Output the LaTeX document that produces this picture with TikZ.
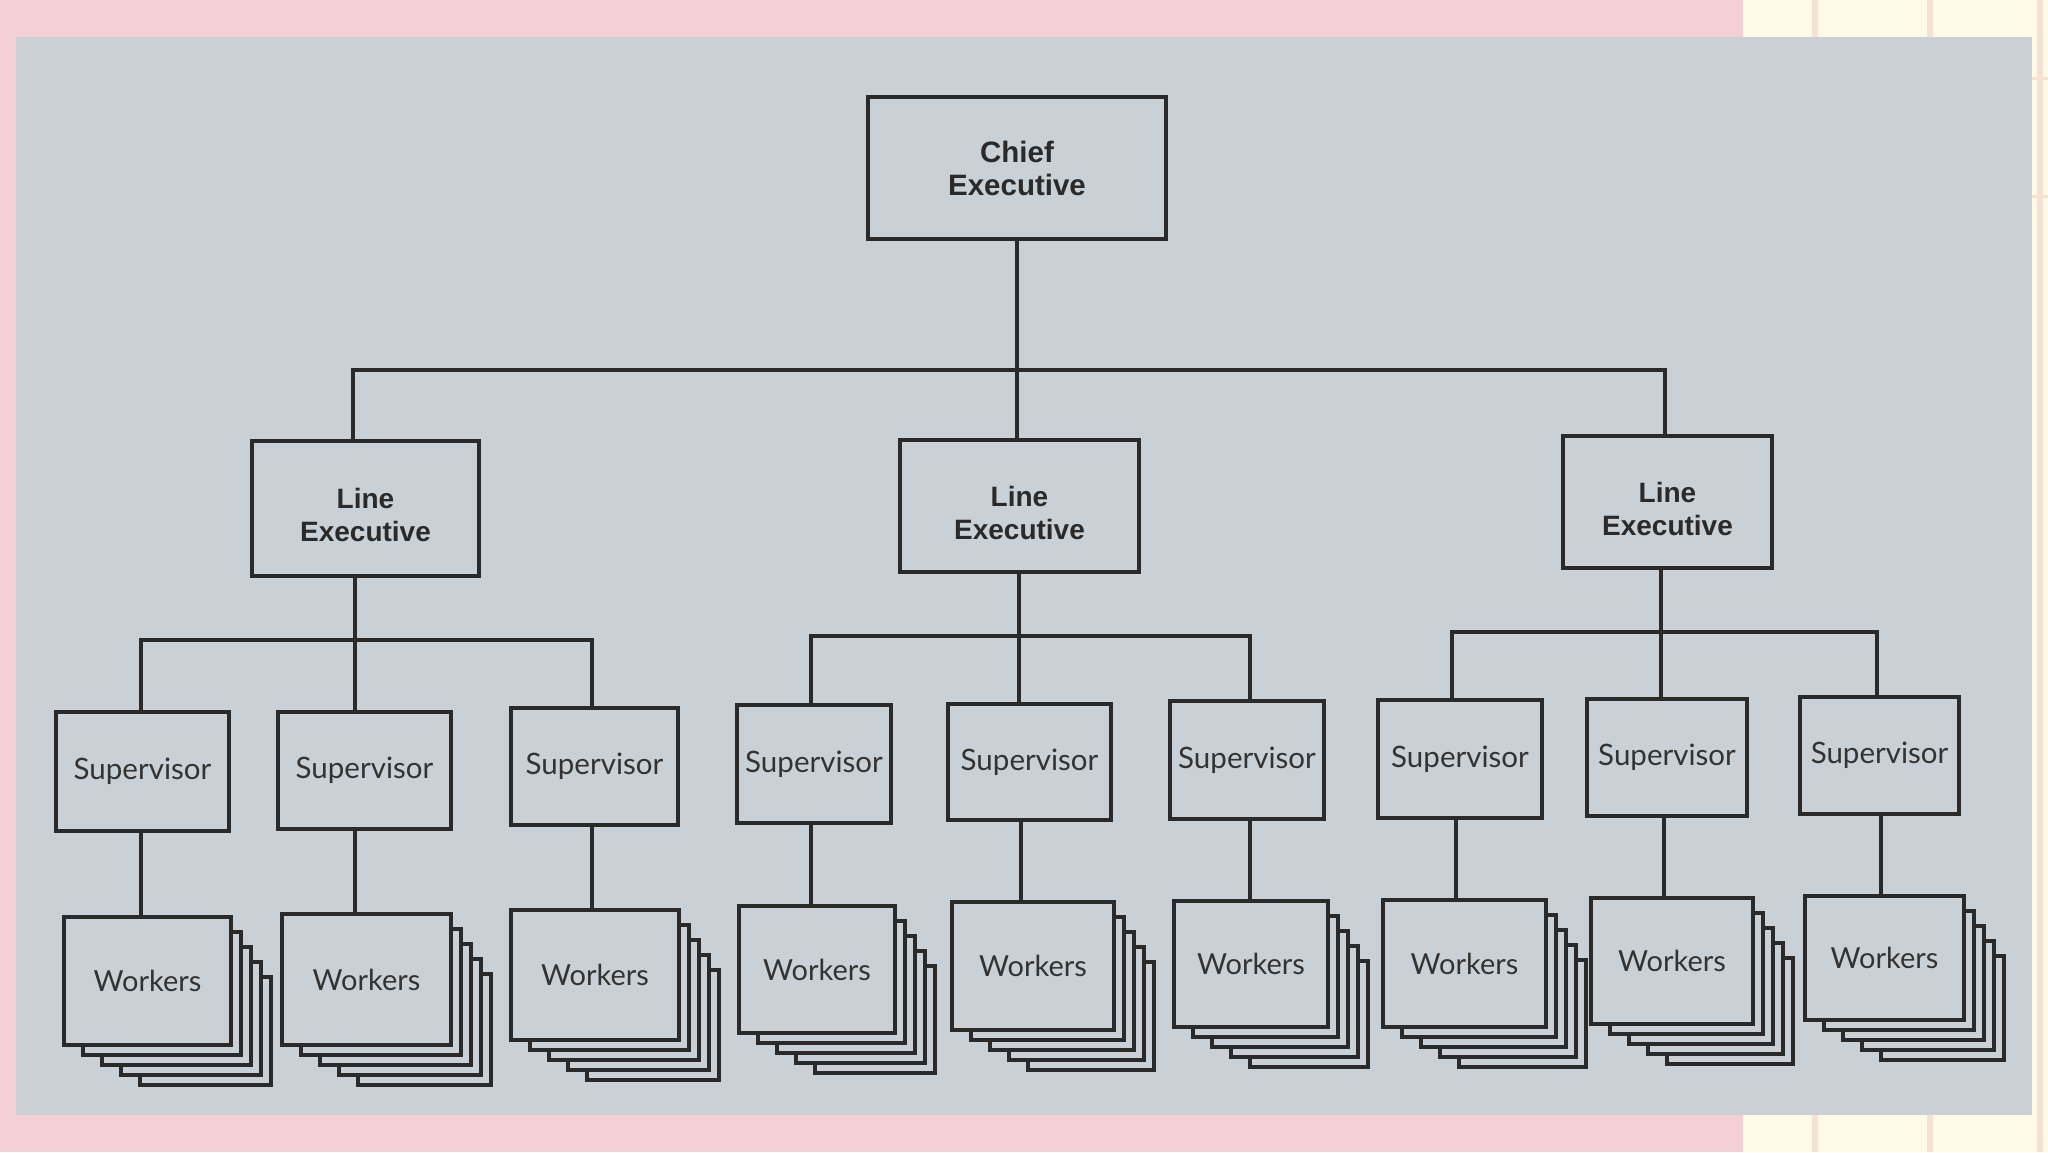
\documentclass[tikz,border=0pt]{standalone}
\usepackage{fontspec}
\usetikzlibrary{calc}
\newfontfamily\execfont{Liberation Sans}
\newfontfamily\supfont{Lato}
\definecolor{pinkbg}{HTML}{F4CFD4}
\definecolor{creambg}{HTML}{FEFAE8}
\definecolor{gridln}{HTML}{F6E2D2}
\definecolor{photo}{HTML}{C9D1D6}
\definecolor{ink}{HTML}{2A2A2A}
\definecolor{inktxt}{HTML}{333333}
\pgfdeclarelayer{bg}
\pgfdeclarelayer{stk}
\pgfsetlayers{bg,stk,main}
\tikzset{
  conn/.style={draw=ink, line width=3.2pt, line join=miter, line cap=rect},
  box/.style={draw=ink, line width=3.2pt, fill=photo, inner sep=0pt, outer sep=0pt},
  chiefbox/.style={box, align=center, font=\execfont\bfseries\fontsize{29.5}{33}\selectfont, text=ink},
  execbox/.style={box, align=center, font=\execfont\bfseries\fontsize{28}{33}\selectfont, text=ink},
  supbox/.style={box, font=\supfont\fontsize{29.5}{32}\selectfont, text=inktxt},
  workbox/.style={box, font=\supfont\fontsize{29}{32}\selectfont, text=inktxt},
}
\newcommand{\lestrut}{\rule{0pt}{34pt}}
\begin{document}
\begin{tikzpicture}[x=1pt,y=-1pt]
\useasboundingbox (0,0) rectangle (2048,1152);
\begin{pgfonlayer}{bg}
  \fill[pinkbg] (0,0) rectangle (2048,1152);
  \fill[creambg] (1743,0) rectangle (2048,1152);
  \foreach \gx in {1815,1930,2040} \fill[gridln] (\gx-3,0) rectangle (\gx+3,1152);
  \fill[gridln] (1743,77) rectangle (2048,80);
  \fill[gridln] (1743,195) rectangle (2048,198);
  \fill[photo] (16,37) rectangle (2032,1115);
\end{pgfonlayer}

% Chief
\node[chiefbox, minimum width=298, minimum height=142] (ce) at (1017,168) {Chief\\Executive};
% Line executives
\node[execbox, minimum width=227, minimum height=135] (le1) at (365.5,508.5) {\lestrut Line\\Executive};
\node[execbox, minimum width=239, minimum height=132] (le2) at (1019.5,506) {\lestrut Line\\Executive};
\node[execbox, minimum width=209, minimum height=132] (le3) at (1667.5,502) {\lestrut Line\\Executive};
% Supervisors
\node[supbox, minimum width=173, minimum height=119] (s1) at (142.5,771.5) {Supervisor};
\node[supbox, minimum width=173, minimum height=117] (s2) at (364.5,770.5) {Supervisor};
\node[supbox, minimum width=167, minimum height=117] (s3) at (594.5,766.5) {Supervisor};
\node[supbox, minimum width=154, minimum height=118] (s4) at (814,764) {Supervisor};
\node[supbox, minimum width=163, minimum height=116] (s5) at (1029.5,762) {Supervisor};
\node[supbox, minimum width=154, minimum height=118] (s6) at (1247,760) {Supervisor};
\node[supbox, minimum width=164, minimum height=118] (s7) at (1460,759) {Supervisor};
\node[supbox, minimum width=160, minimum height=117] (s8) at (1667,757.5) {Supervisor};
\node[supbox, minimum width=159, minimum height=117] (s9) at (1879.5,755.5) {Supervisor};
% Workers
\node[workbox, minimum width=167, minimum height=128] (w1) at (147.5,981) {Workers};
\node[workbox, minimum width=169, minimum height=131] (w2) at (366.5,979.5) {Workers};
\node[workbox, minimum width=168, minimum height=130] (w3) at (595,975) {Workers};
\node[workbox, minimum width=156, minimum height=127] (w4) at (817,969.5) {Workers};
\node[workbox, minimum width=162, minimum height=128] (w5) at (1033,966) {Workers};
\node[workbox, minimum width=154, minimum height=126] (w6) at (1251,964) {Workers};
\node[workbox, minimum width=163, minimum height=127] (w7) at (1464.5,963.5) {Workers};
\node[workbox, minimum width=162, minimum height=126] (w8) at (1672,961) {Workers};
\node[workbox, minimum width=159, minimum height=124] (w9) at (1884.5,958) {Workers};

% Stacks behind workers
\begin{pgfonlayer}{stk}
\foreach \i in {1,...,9}{
  \foreach \k in {4,3,2,1}{
    \draw[conn, fill=photo] ($(w\i.north west)+(19*\k,15*\k)$) rectangle ($(w\i.south east)+(10*\k,10*\k)$);
  }
}
\end{pgfonlayer}

% Top level connectors
\draw[conn] (ce.south) -- (ce.south |- le2.north);
\coordinate (t1) at (353,370);
\coordinate (t3) at (1665,370);
\draw[conn] (t1 |- le1.north) -- (t1) -- (t3) -- (t3 |- le3.north);

% Group 1
\coordinate (g1l) at (141,640); \coordinate (g1m) at (355,640); \coordinate (g1r) at (592,640);
\draw[conn] (g1m |- le1.south) -- (g1m |- s2.north);
\draw[conn] (g1l |- s1.north) -- (g1l) -- (g1r) -- (g1r |- s3.north);
% Group 2
\coordinate (g2l) at (811,636); \coordinate (g2m) at (1019,636); \coordinate (g2r) at (1250,636);
\draw[conn] (g2m |- le2.south) -- (g2m |- s5.north);
\draw[conn] (g2l |- s4.north) -- (g2l) -- (g2r) -- (g2r |- s6.north);
% Group 3
\coordinate (g3l) at (1452,632); \coordinate (g3m) at (1661,632); \coordinate (g3r) at (1877,632);
\draw[conn] (g3m |- le3.south) -- (g3m |- s8.north);
\draw[conn] (g3l |- s7.north) -- (g3l) -- (g3r) -- (g3r |- s9.north);

% Supervisor to workers
\foreach \i/\xx in {1/141,2/355,3/592,4/811,5/1021,6/1250,7/1456,8/1664,9/1881}{
  \coordinate (v\i) at (\xx,0);
  \draw[conn] (v\i |- s\i.south) -- (v\i |- w\i.north);
}
\end{tikzpicture}
\end{document}
